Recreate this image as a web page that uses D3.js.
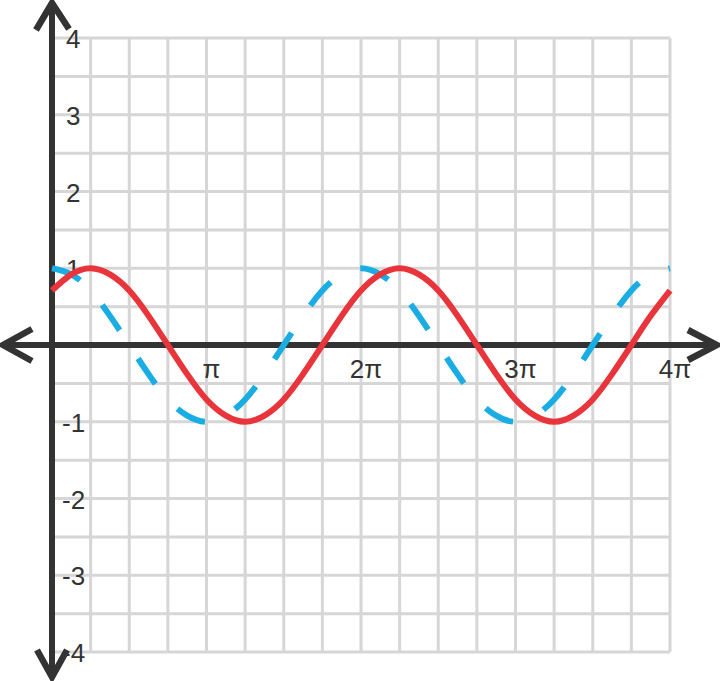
<!DOCTYPE html>
<html>
<head>
<meta charset="utf-8">
<script src="https://cdn.jsdelivr.net/npm/d3@7"></script>
<style>
  html, body { margin: 0; padding: 0; background: #ffffff; }
  svg { display: block; }
</style>
</head>
<body>
<svg id="chart" width="720" height="681"></svg>
<script>
// ---- data (x in multiples of pi) ----
const xPi = [0, 0.125, 0.25, 0.375, 0.5, 0.625, 0.75, 0.875, 1,
             1.125, 1.25, 1.375, 1.5, 1.625, 1.75, 1.875, 2,
             2.125, 2.25, 2.375, 2.5, 2.625, 2.75, 2.875, 3,
             3.125, 3.25, 3.375, 3.5, 3.625, 3.75, 3.875, 4];
const blueY = [1, 0.92, 0.71, 0.38, 0, -0.38, -0.71, -0.92, -1,
               -0.92, -0.71, -0.38, 0, 0.38, 0.71, 0.92, 1,
               0.92, 0.71, 0.38, 0, -0.38, -0.71, -0.92, -1,
               -0.92, -0.71, -0.38, 0, 0.38, 0.71, 0.92, 1];
const redY = [0.71, 0.92, 1, 0.92, 0.71, 0.38, 0, -0.38, -0.71,
              -0.92, -1, -0.92, -0.71, -0.38, 0, 0.38, 0.71,
              0.92, 1, 0.92, 0.71, 0.38, 0, -0.38, -0.71,
              -0.92, -1, -0.92, -0.71, -0.38, 0, 0.38, 0.71];
const xTickValues = [1, 2, 3, 4];
const xTickLabels = ["π", "2π", "3π", "4π"];
const yTickValues = [4, 3, 2, 1, -1, -2, -3, -4];
const yTickLabels = ["4", "3", "2", "1", "-1", "-2", "-3", "-4"];

// ---- layout ----
const W = 720, H = 681;
const margin = { left: 52, right: 50, top: 38, bottom: 29 };
const svg = d3.select("#chart");

const x = d3.scaleLinear().domain([0, 4]).range([margin.left, W - margin.right]);
const y = d3.scaleLinear().domain([-4, 4]).range([H - margin.bottom, margin.top]);

const axisColor = "#333333";
const gridColor = "#d6d6d6";
const font = "'Liberation Sans', Arial, Helvetica, sans-serif";

// ---- grid ----
const gx = d3.range(0, 4.0001, 0.25);
const gy = d3.range(-4, 4.0001, 0.5);
const grid = svg.append("g").attr("stroke", gridColor).attr("stroke-width", 3);
grid.selectAll("line.v").data(gx).join("line").attr("class", "v")
  .attr("x1", d => x(d)).attr("x2", d => x(d))
  .attr("y1", y(4)).attr("y2", y(-4));
grid.selectAll("line.h").data(gy).join("line").attr("class", "h")
  .attr("y1", d => y(d)).attr("y2", d => y(d))
  .attr("x1", x(0)).attr("x2", x(4));

// ---- axes with arrows ----
const ax = svg.append("g").attr("stroke", axisColor).attr("fill", "none")
  .attr("stroke-width", 6);
const x0 = x(0), y0 = y(0);
const topTip = y(4) - 36, botTip = y(-4) + 26;
const leftTip = x(0) - 50, rightTip = x(4) + 48;
ax.append("line").attr("x1", x0).attr("x2", x0).attr("y1", topTip + 2).attr("y2", botTip - 2);
ax.append("line").attr("y1", y0).attr("y2", y0).attr("x1", leftTip + 2).attr("x2", rightTip - 2);
const arrowLine = d3.line();
const heads = svg.append("g").attr("stroke", axisColor).attr("fill", "none")
  .attr("stroke-width", 6.5).attr("stroke-linejoin", "miter").attr("stroke-miterlimit", 10);
heads.append("path").attr("d", arrowLine([[x0 - 16, topTip + 28], [x0, topTip + 1], [x0 + 17, topTip + 27]]));
heads.append("path").attr("d", arrowLine([[x0 - 15, botTip - 28], [x0, botTip - 1], [x0 + 15, botTip - 28]]));
heads.append("path").attr("d", arrowLine([[leftTip + 30, y0 - 16], [leftTip + 1, y0], [leftTip + 30, y0 + 16]]));
heads.append("path").attr("d", arrowLine([[rightTip - 30, y0 - 15], [rightTip - 1, y0], [rightTip - 30, y0 + 15]]));

// ---- tick labels ----
const labels = svg.append("g").attr("fill", axisColor)
  .style("font-family", font).style("font-size", "26px");
labels.selectAll("text.y").data(yTickValues).join("text").attr("class", "y")
  .attr("x", d => d < 0 ? x0 + 10 : x0 + 14)
  .attr("y", d => y(d) + 1)
  .attr("dominant-baseline", "central")
  .text((d, i) => yTickLabels[i]);
labels.selectAll("text.x").data(xTickValues).join("text").attr("class", "x")
  .attr("x", d => x(d) + 5)
  .attr("y", y0 + 24)
  .attr("text-anchor", "middle")
  .attr("dominant-baseline", "central")
  .text((d, i) => xTickLabels[i]);

// ---- curves ----
const line = d3.line()
  .x(d => x(d[0]))
  .y(d => y(d[1]))
  .curve(d3.curveNatural);

const bluePts = xPi.map((v, i) => [v, blueY[i]]);
const redPts = xPi.map((v, i) => [v, redY[i]]);

const bluePath = svg.append("path")
  .attr("d", line(bluePts))
  .attr("fill", "none")
  .attr("stroke", "#19ade4")
  .attr("stroke-width", 6);
const L = bluePath.node().getTotalLength();
const period = (L - 2) / 14;
bluePath.attr("stroke-dasharray", `${period * 0.48} ${period * 0.52}`);

svg.append("path")
  .attr("d", line(redPts))
  .attr("fill", "none")
  .attr("stroke", "#e8353b")
  .attr("stroke-width", 6);
</script>
</body>
</html>
